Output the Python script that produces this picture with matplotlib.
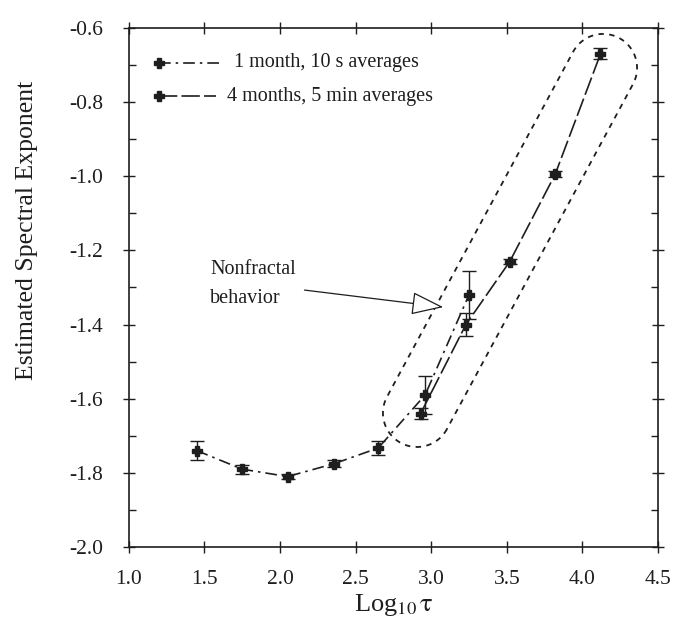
import numpy as np
import matplotlib.pyplot as plt
from matplotlib.lines import Line2D
from matplotlib.patches import Polygon
from matplotlib.ticker import MultipleLocator

plt.rcParams['font.family'] = ['Liberation Serif', 'DejaVu Serif']
plt.rcParams['mathtext.fontset'] = 'stix'

# данные: 1 месяц, средние за 10 с
x1 = [1.45, 1.75, 2.05, 2.36, 2.65, 2.96, 3.25]
y1 = [-1.74, -1.79, -1.81, -1.775, -1.733, -1.59, -1.32]
e1 = [0.025, 0.012, 0.006, 0.01, 0.02, 0.05, 0.065]

# данные: 4 месяца, средние за 5 мин
x2 = [2.93, 3.23, 3.52, 3.82, 4.12]
y2 = [-1.64, -1.40, -1.23, -0.995, -0.67]
e2 = [0.015, 0.03, 0.008, 0.008, 0.015]

labels = ['1 month, 10 s averages', '4 months, 5 min averages']
ink = '#1e1e1e'

fig = plt.figure(figsize=(6.85, 6.44), dpi=100)
ax = fig.add_axes([0.188, 0.1506, 0.7725, 0.806])

ax.errorbar(x1, y1, yerr=e1, color=ink, lw=1.2, dashes=(7, 3, 1.5, 3),
            marker='P', ms=7, capsize=5, elinewidth=1, capthick=1)
ax.errorbar(x2, y2, yerr=e2, color=ink, lw=1.2, dashes=(11, 2.5),
            marker='P', ms=7, capsize=5, elinewidth=1, capthick=1)

ax.set_xlim(1.0, 4.5)
ax.set_ylim(-2.0, -0.6)
ax.xaxis.set_major_locator(MultipleLocator(0.5))
ax.yaxis.set_major_locator(MultipleLocator(0.2))
ax.yaxis.set_minor_locator(MultipleLocator(0.1))
ax.xaxis.set_major_formatter(plt.FormatStrFormatter('%.1f'))
ax.yaxis.set_major_formatter(plt.FormatStrFormatter('%.1f'))
ax.tick_params(which='major', direction='inout', length=9, width=1, labelsize=15.5,
               top=True, right=True, colors=ink)
ax.tick_params(axis='y', which='major', pad=14)
ax.tick_params(axis='x', which='major', pad=12)
ax.tick_params(which='minor', direction='in', length=5, width=1,
               top=True, right=True, colors=ink)
for s in ax.spines.values():
    s.set_linewidth(1.2)
    s.set_color(ink)

ax.set_xlabel(r'Log$_{10}\,\mathrm{\tau}$', fontsize=19, color=ink, labelpad=2)
ax.set_ylabel('Estimated Spectral Exponent', fontsize=18.5, color=ink)
ax.yaxis.set_label_coords(-0.172, 0.61)

# пунктирная "капсула" вокруг нефрактальной зоны (в пикселях -> данные)
def px2data(px, py):
    return 1.0 + (px - 129) / 151.1, -2.0 + (547 - py) / 370.7

c0 = np.array([417, 413.0])
c1 = np.array([603, 68.0])
rad = 34
d = (c1 - c0) / np.linalg.norm(c1 - c0)
ang = np.arctan2(d[1], d[0])
t1 = np.linspace(ang + np.pi / 2, ang + 3 * np.pi / 2, 40)
t2 = np.linspace(ang - np.pi / 2, ang + np.pi / 2, 40)
pts = np.vstack([c0 + rad * np.c_[np.cos(t1), np.sin(t1)],
                 c1 + rad * np.c_[np.cos(t2), np.sin(t2)]])
pts_d = np.array([px2data(p[0], p[1]) for p in pts])
ax.add_patch(Polygon(pts_d, closed=True, fill=False, ec=ink, lw=1.3,
                     linestyle=(0, (3, 3))))

# подпись со стрелкой
ax.annotate('Nonfractal\nbehavior', xy=(3.08, -1.353), xytext=(1.54, -1.29),
            fontsize=14.5, color=ink, va='center', ha='left', linespacing=1.75,
            arrowprops=dict(arrowstyle='-|>,head_length=1.4,head_width=0.5',
                            fc='white', ec=ink, lw=0.9, shrinkA=4, shrinkB=0))

# легенда вручную: маркер слева от линии
rows = [(0.933, (7, 3, 1.5, 3), 0.178), (0.868, (11, 2.5), 0.165)]
for (yy, dsh, xend), lab in zip(rows, labels):
    ax.add_line(Line2D([0.058, xend], [yy, yy], transform=ax.transAxes,
                       color=ink, lw=1.2, dashes=dsh))
    ax.plot([0.058], [yy], transform=ax.transAxes, marker='P', ms=7, color=ink)
    ax.text(xend + 0.02, yy, lab, transform=ax.transAxes, fontsize=14.5,
            va='center', ha='left', color=ink)

fig.savefig('out.png', dpi=100)
